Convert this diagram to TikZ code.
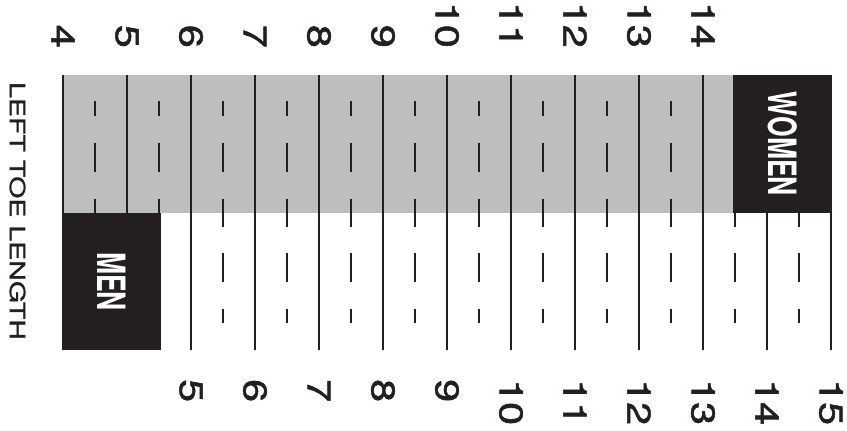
\documentclass[tikz,border=0pt]{standalone}
\usepackage{fontspec}
\setmainfont{TeX Gyre Heros}
\newfontfamily\numfont[FakeBold=1.4]{TeX Gyre Heros}
\newfontfamily\titlefont[FakeBold=1.0]{TeX Gyre Heros}
\definecolor{chartgrey}{HTML}{BCBEC0}
\definecolor{chartblack}{HTML}{231F20}
\begin{document}
\begin{tikzpicture}[x=1pt,y=-1pt,
  gridline/.style={line width=1.8pt, draw=chartblack},
  tickdash/.style={line width=1.6pt, draw=chartblack},
  sizebox/.style={fill=chartblack},
  toplabel/.style={rotate=-90, anchor=east, inner sep=0pt, text=chartblack,
    font=\numfont\fontsize{33}{33}\selectfont},
  botlabel/.style={rotate=-90, anchor=west, inner sep=0pt, text=chartblack,
    font=\numfont\fontsize{33}{33}\selectfont},
  boxlabel/.style={rotate=-90, inner sep=0pt, text=white,
    font=\fontsize{39}{39}\selectfont\bfseries},
  titlelabel/.style={rotate=-90, inner sep=0pt, text=chartblack,
    font=\titlefont\fontsize{21}{21}\selectfont}]
\useasboundingbox (0,0) rectangle (847,431);
% grey band
\fill[chartgrey] (63,75) rectangle (734,213);
% solid size lines
\foreach \k in {0,...,12}{
  \coordinate (lt\k) at ({63+64*\k},75);
  \coordinate (lb\k) at ({63+64*\k},350);
  \draw[gridline] (lt\k) -- (lb\k);
}
% half-size dashed marks
\foreach \k in {0,...,11}{
  \pgfmathsetmacro{\xx}{95+64*\k}
  \foreach \a/\b in {101/116,143/172,199/227,253/282,309/323}{
    \draw[tickdash] (\xx,\a) -- (\xx,\b);
  }
}
% black boxes
\fill[sizebox] (63,213) rectangle (161,350);
\fill[sizebox] (733,75) rectangle (831,213);
\node[boxlabel] (men) at (112,281.5) {\scalebox{0.68}[1]{MEN}};
\node[boxlabel] (women) at (783,144) {\scalebox{0.68}[1]{WOMEN}};
% top labels (women sizes)
\foreach \n [count=\k from 0] in {4,...,14}{
  \node[toplabel] (t\n) at ({63+64*\k},48) {\scalebox{1.25}[1]{\n}};
}
% bottom labels (men sizes)
\foreach \n [count=\k from 2] in {5,...,15}{
  \node[botlabel] (b\n) at ({63+64*\k},379) {\scalebox{1.25}[1]{\n}};
}
% axis title
\node[titlelabel] (title) at (17.5,211) {\scalebox{1.36}[1]{LEFT TOE LENGTH}};
\end{tikzpicture}
\end{document}
